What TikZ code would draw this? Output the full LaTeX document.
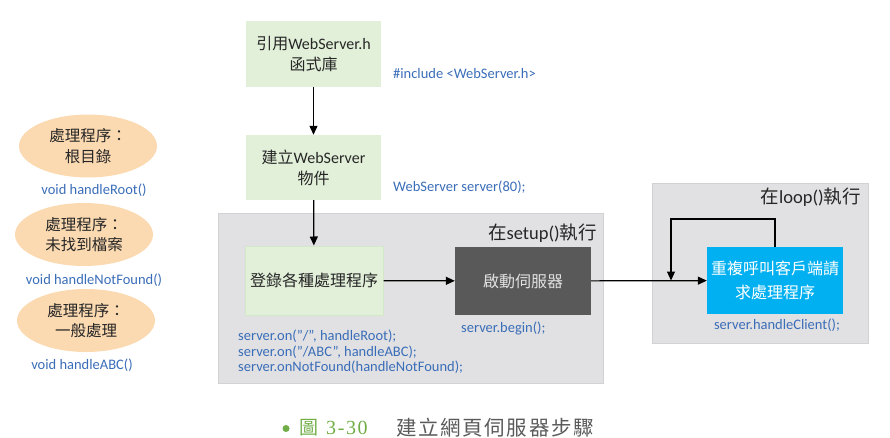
\documentclass[tikz,border=0pt]{standalone}
\usepackage{fontspec}
\setmainfont{Carlito}
\newfontfamily\cjk{Noto Sans CJK TC}
\newfontfamily\capserif{Liberation Serif}
\usetikzlibrary{arrows.meta,shapes.geometric}
\definecolor{boxgreen}{HTML}{E2F0D9}
\definecolor{boxgreenline}{HTML}{D3E8C6}
\definecolor{panelgray}{HTML}{E1E1E3}
\definecolor{panelline}{HTML}{D2D2D4}
\definecolor{darkbox}{HTML}{595959}
\definecolor{cyanbox}{HTML}{00B0F0}
\definecolor{peach}{HTML}{FBD9B1}
\definecolor{codeblue}{HTML}{3A6DB8}
\definecolor{capgreen}{HTML}{70AD47}
\definecolor{capgray}{HTML}{5A5A5A}
\tikzset{
  stepbox/.style={rectangle,fill=boxgreen,inner sep=0pt,align=center,
    font=\fontsize{16}{21}\selectfont,text=black!85},
  panel/.style={rectangle,fill=panelgray,draw=panelline,line width=0.8pt,inner sep=0pt},
  handler/.style={ellipse,fill=peach,inner sep=0pt,minimum width=138pt,minimum height=63pt,
    align=center,font=\fontsize{15.5}{20.5}\selectfont\cjk,text=black!85},
  code/.style={text=codeblue,font=\fontsize{14.5}{15.5}\selectfont,inner sep=0pt,align=left},
  paneltitle/.style={font=\fontsize{18.5}{22}\selectfont,text=black!85,inner sep=0pt},
  flow/.style={line width=1.2pt,-{Triangle[length=9pt,width=8pt]}},
}
\begin{document}
\begin{tikzpicture}[x=1pt,y=-1pt]
\useasboundingbox (0,0) rectangle (890,438);
% panels
\node[panel,minimum width=385pt,minimum height=170pt] (setup) at (410.5,298) {};
\node[panel,minimum width=216pt,minimum height=160pt] (loop) at (760,263) {};
\node[paneltitle,anchor=east] (setuptitle) at (597,233) {{\cjk 在}setup(){\cjk 執行}};
\node[paneltitle,anchor=east] (looptitle) at (861,197) {{\cjk 在}loop(){\cjk 執行}};
% steps
\node[stepbox,minimum width=135pt,minimum height=66pt] (inc) at (313.5,54)
  {{\cjk 引用}WebServer.h\\{\cjk 函式庫}};
\node[stepbox,minimum width=135pt,minimum height=65pt] (obj) at (313.5,167.5)
  {{\cjk 建立}WebServer\\{\cjk 物件}};
\node[stepbox,draw=boxgreenline,line width=1pt,minimum width=138pt,minimum height=69pt] (reg) at (314,280.5)
  {\cjk 登錄各種處理程序};
\node[rectangle,fill=darkbox,minimum width=136pt,minimum height=68pt,inner sep=0pt,
  font=\fontsize{16}{21}\selectfont\cjk,text=black!12] (begin) at (523,281) {啟動伺服器};
\node[rectangle,fill=cyanbox,minimum width=136pt,minimum height=67pt,inner sep=0pt,align=center,
  font=\fontsize{16}{24}\selectfont\cjk,text=white] (client) at (775,280.5) {重複呼叫客戶端請\\求處理程序};
% code labels
\node[code,anchor=west] (c1) at (393,74) {\#include <WebServer.h>};
\node[code,anchor=west] (c2) at (393,187) {WebServer server(80);};
\node[code,anchor=north west] (c3) at (238,330) {server.on("/", handleRoot);\\server.on("/ABC", handleABC);\\server.onNotFound(handleNotFound);};
\node[code,anchor=west] (c4) at (461,328) {server.begin();};
\node[code] (c5) at (777,325) {server.handleClient();};
% handlers
\node[handler] (h1) at (88,146) {處理程序：\\根目錄};
\node[handler] (h2) at (84,234.5) {處理程序：\\未找到檔案};
\node[handler] (h3) at (86,320.5) {處理程序：\\一般處理};
\node[code] (v1) at (94,190) {void handleRoot()};
\node[code] (v2) at (94,280) {void handleNotFound()};
\node[code] (v3) at (82,365) {void handleABC()};
% connectors
\draw[flow] (inc) -- (obj);
\draw[flow] (obj) -- (reg);
\draw[flow] (reg) -- (begin);
\draw[flow] (begin) -- (client);
\coordinate (lpcorner) at (671,219);
\coordinate (lpend) at (671,280.5);
\draw[flow] (client.north) |- (lpcorner) -- (lpend);
% caption
\fill[capgreen] (286,428.5) circle (3.5);
\node[anchor=west,inner sep=0pt,text=capgreen,font=\fontsize{19}{22}\selectfont\cjk] (capfig) at (299,427.5) {圖};
\node[anchor=west,inner sep=0pt,text=capgreen,font=\fontsize{20}{22}\selectfont\capserif\addfontfeature{LetterSpace=8}] (capnum) at (326,427.5) {3-30};
\node[anchor=west,inner sep=0pt,text=capgray,font=\fontsize{20.5}{22}\selectfont\cjk\addfontfeature{LetterSpace=8}] (captext) at (396,427.5)
  {建立網頁伺服器步驟};
\end{tikzpicture}
\end{document}
